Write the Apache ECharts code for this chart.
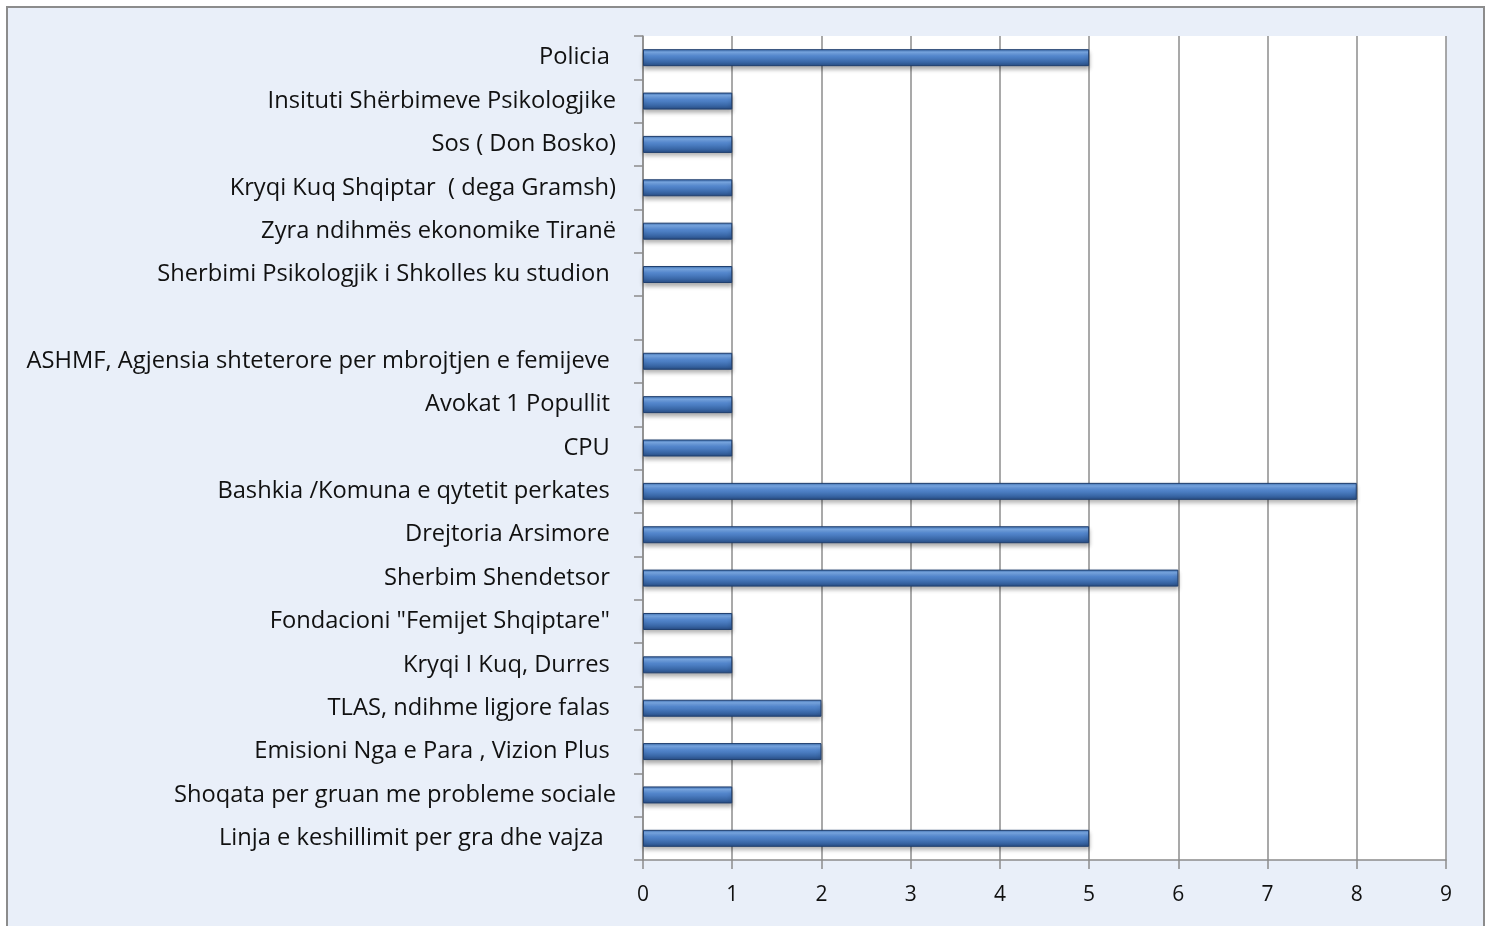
<!DOCTYPE html>
<html lang="sq">

<head>
    <meta charset="UTF-8">
    <title>Institucionet</title>
    <script src="https://cdnjs.cloudflare.com/ajax/libs/echarts/6.0.0/echarts.min.js"></script>
    <style>
        body { margin: 0; background: #ffffff; }
        #frame {
            position: absolute; left: 6px; top: 6px;
            width: 1475px; height: 940px;
            border: 2px solid #8c8c8c;
            background: #e9eff9;
        }
        #main { position: absolute; left: 0; top: 0; width: 1491px; height: 926px; }
    </style>
</head>

<body>
    <div id="frame"></div>
    <div id="main"></div>

    <script>
        // rows listed top to bottom, trailing spaces kept as in the source
        var categories = [
            "Policia ",
            "Insituti Shërbimeve Psikologjike",
            "Sos ( Don Bosko)",
            "Kryqi Kuq Shqiptar  ( dega Gramsh)",
            "Zyra ndihmës ekonomike Tiranë",
            "Sherbimi Psikologjik i Shkolles ku studion ",
            "",
            "ASHMF, Agjensia shteterore per mbrojtjen e femijeve ",
            "Avokat 1 Popullit ",
            "CPU ",
            "Bashkia /Komuna e qytetit perkates ",
            "Drejtoria Arsimore ",
            "Sherbim Shendetsor ",
            "Fondacioni \"Femijet Shqiptare\" ",
            "Kryqi I Kuq, Durres ",
            "TLAS, ndihme ligjore falas ",
            "Emisioni Nga e Para , Vizion Plus ",
            "Shoqata per gruan me probleme sociale",
            "Linja e keshillimit per gra dhe vajza  "
        ];
        var values = [5, 1, 1, 1, 1, 1, null, 1, 1, 1, 8, 5, 6, 1, 1, 2, 2, 1, 5];
        var xTicks = [0, 9, 1];

        var chart1 = echarts.init(document.getElementById('main'));

        var barColor = new echarts.graphic.LinearGradient(0, 0, 0, 1, [
            { offset: 0, color: '#3d6eb0' },
            { offset: 0.18, color: '#7cace9' },
            { offset: 0.4, color: '#5589d0' },
            { offset: 0.75, color: '#3a68a8' },
            { offset: 1, color: '#284c82' }
        ]);

        var option = {
            animation: false,
            textStyle: { fontFamily: '"Open Sans", "Noto Sans", sans-serif' },
            grid: {
                left: 643, right: 45, top: 36, bottom: 66,
                show: true, backgroundColor: '#ffffff', borderWidth: 0
            },
            xAxis: {
                type: 'value',
                min: xTicks[0], max: xTicks[1], interval: xTicks[2],
                axisLine: { show: true, lineStyle: { color: '#8c8c8c', width: 1.5 } },
                axisTick: { show: true, length: 9, lineStyle: { color: '#8c8c8c', width: 1.5 } },
                axisLabel: { color: '#111', fontSize: 21, margin: 25 },
                splitLine: { show: true, lineStyle: { color: '#8c8c8c', width: 1.5 } }
            },
            yAxis: {
                type: 'category',
                inverse: true,
                data: categories,
                axisLine: { show: true, lineStyle: { color: '#8c8c8c', width: 1.5 } },
                axisTick: { show: true, length: 9, lineStyle: { color: '#8c8c8c', width: 1.5 } },
                axisLabel: { color: '#111', fontSize: 23.7, margin: 27 }
            },
            series: [
                {
                    type: 'bar',
                    data: values,
                    barWidth: 17,
                    itemStyle: {
                        color: barColor,
                        borderColor: '#1f3e6d',
                        borderWidth: 1,
                        shadowColor: 'rgba(0,0,0,0.3)',
                        shadowBlur: 4,
                        shadowOffsetY: 3
                    }
                }
            ]
        };

        chart1.setOption(option);
    </script>
</body>

</html>
